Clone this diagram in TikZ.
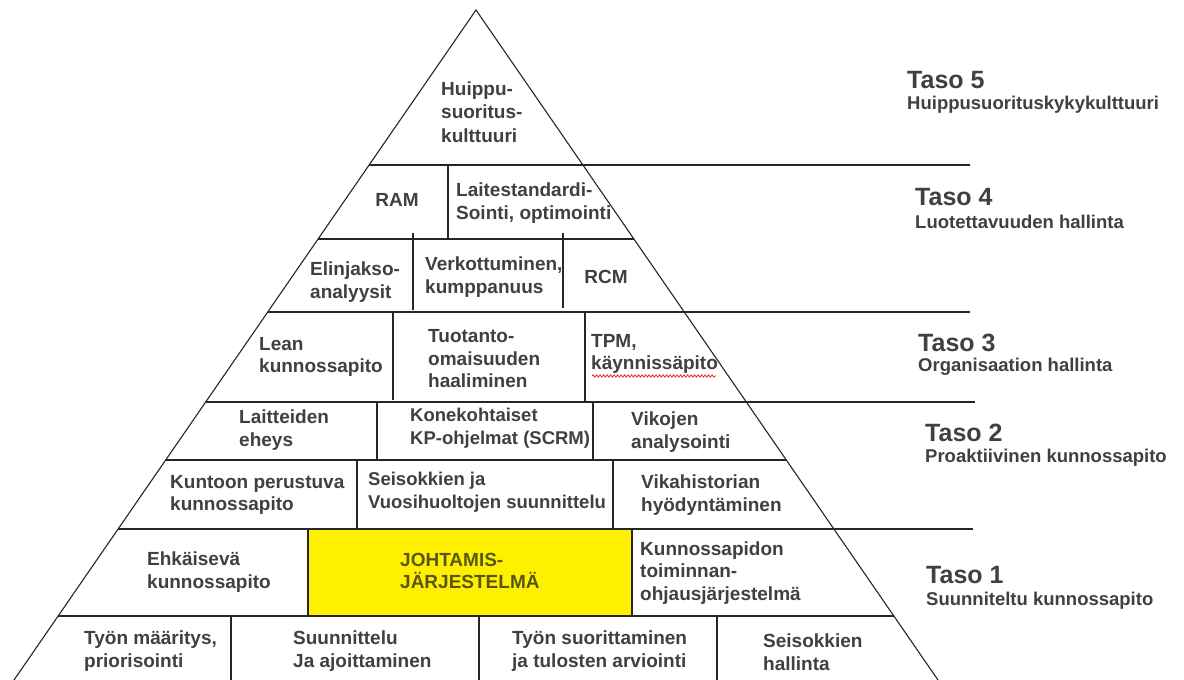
\documentclass[tikz,border=0pt]{standalone}
\usepackage{fontspec}
\setmainfont{Liberation Sans}
\usetikzlibrary{decorations.pathmorphing}
\definecolor{txt}{RGB}{64,64,64}
\definecolor{boxyellow}{RGB}{255,240,0}
\definecolor{oltxt}{RGB}{88,86,20}
\definecolor{spell}{RGB}{230,40,40}
\tikzset{
  edge/.style={draw=black!85, line width=1.1pt},
  cell/.style={inner sep=0pt, align=left, anchor=west, text=txt,
    font=\fontsize{19}{22.5}\selectfont\bfseries},
  narrowcell/.style={cell, font=\fontsize{18.5}{22.5}\selectfont\bfseries},
  levelhead/.style={inner sep=0pt, anchor=west, text=txt,
    font=\fontsize{25}{28}\selectfont\bfseries},
  levelsub/.style={inner sep=0pt, anchor=west, text=txt,
    font=\fontsize{18.5}{22}\selectfont\bfseries}
}
\begin{document}
\begin{tikzpicture}[x=1pt,y=-1pt]
\useasboundingbox (0,0) rectangle (1184,680);
\fill[white] (0,0) rectangle (1184,680);

% management system block
\filldraw[fill=boxyellow, draw=black!85, line width=1.1pt] (308,529) rectangle (632,616);

% pyramid outline
\draw[edge] (14,680) -- (476,10) -- (938,680);

% level boundaries
\draw[edge] (369,165) -- (970,165);
\draw[edge] (318,239) -- (634,239);
\draw[edge] (268,312) -- (970,312);
\draw[edge] (206,402) -- (975,402);
\draw[edge] (166,460) -- (786,460);
\draw[edge] (118,529) -- (973,529);
\draw[edge] (58,616) -- (894,616);

% cell dividers
\draw[edge] (448,165) -- (448,239);
\draw[edge] (413,233) -- (413,310);
\draw[edge] (563,233) -- (563,308);
\draw[edge] (393,312) -- (393,400);
\draw[edge] (585,312) -- (585,402);
\draw[edge] (377,402) -- (377,460);
\draw[edge] (593,402) -- (593,460);
\draw[edge] (357,460) -- (357,529);
\draw[edge] (613,460) -- (613,529);
\draw[edge] (231,616) -- (231,680);
\draw[edge] (479,616) -- (479,680);
\draw[edge] (717,616) -- (717,680);

% cell texts
\node[cell, font=\fontsize{19}{23.5}\selectfont\bfseries] (top) at (441,112) {Huippu-\\suoritus-\\kulttuuri};
\node[cell, anchor=center] (ram) at (397,200) {RAM};
\node[cell] (std) at (456,203) {Laitestandardi-\\Sointi, optimointi};
\node[cell] (life) at (310,282) {Elinjakso-\\analyysit};
\node[cell] (net) at (425,277) {Verkottuminen,\\kumppanuus};
\node[cell, anchor=center] (rcm) at (606,277) {RCM};
\node[cell] (lean) at (259,357) {Lean\\kunnossapito};
\node[cell] (asset) at (428,359) {Tuotanto-\\omaisuuden\\haaliminen};
\node[cell] (tpm) at (591,354) {TPM,\\käynnissäpito};
\node[cell] (integ) at (239,430) {Laitteiden\\eheys};
\node[narrowcell] (scrm) at (410,428) {Konekohtaiset\\KP-ohjelmat (SCRM)};
\node[cell] (fault) at (631,432) {Vikojen\\analysointi};
\node[cell] (cbm) at (170,495) {Kuntoon perustuva\\kunnossapito};
\node[narrowcell] (shut) at (368,492) {Seisokkien ja\\Vuosihuoltojen suunnittelu};
\node[cell] (hist) at (641,495) {Vikahistorian\\hyödyntäminen};
\node[cell] (prev) at (147,572) {Ehkäisevä\\kunnossapito};
\node[cell, text=oltxt] (mgmt) at (400,571) {JOHTAMIS-\\JÄRJESTELMÄ};
\node[cell] (erp) at (640,573) {Kunnossapidon\\toiminnan-\\ohjausjärjestelmä};
\node[cell] (def) at (84,651) {Työn määritys,\\priorisointi};
\node[cell] (plan) at (293,651) {Suunnittelu\\Ja ajoittaminen};
\node[cell] (exec) at (512,651) {Työn suorittaminen\\ja tulosten arviointi};
\node[cell] (outage) at (763,652) {Seisokkien\\hallinta};

% spell-check underline
\draw[spell, line width=0.8pt, decorate,
  decoration={snake, amplitude=1.2pt, segment length=3.5pt}]
  (592,376) -- (716,376);

% level labels
\node[levelhead] (t5) at (907,80) {Taso 5};
\node[levelsub] (s5) at (907,105) {Huippusuorituskykykulttuuri};
\node[levelhead] (t4) at (915,197) {Taso 4};
\node[levelsub] (s4) at (915,222) {Luotettavuuden hallinta};
\node[levelhead] (t3) at (918,343) {Taso 3};
\node[levelsub] (s3) at (918,367) {Organisaation hallinta};
\node[levelhead] (t2) at (925,433) {Taso 2};
\node[levelsub] (s2) at (925,458) {Proaktiivinen kunnossapito};
\node[levelhead] (t1) at (926,575) {Taso 1};
\node[levelsub] (s1) at (926,601) {Suunniteltu kunnossapito};
\end{tikzpicture}
\end{document}
